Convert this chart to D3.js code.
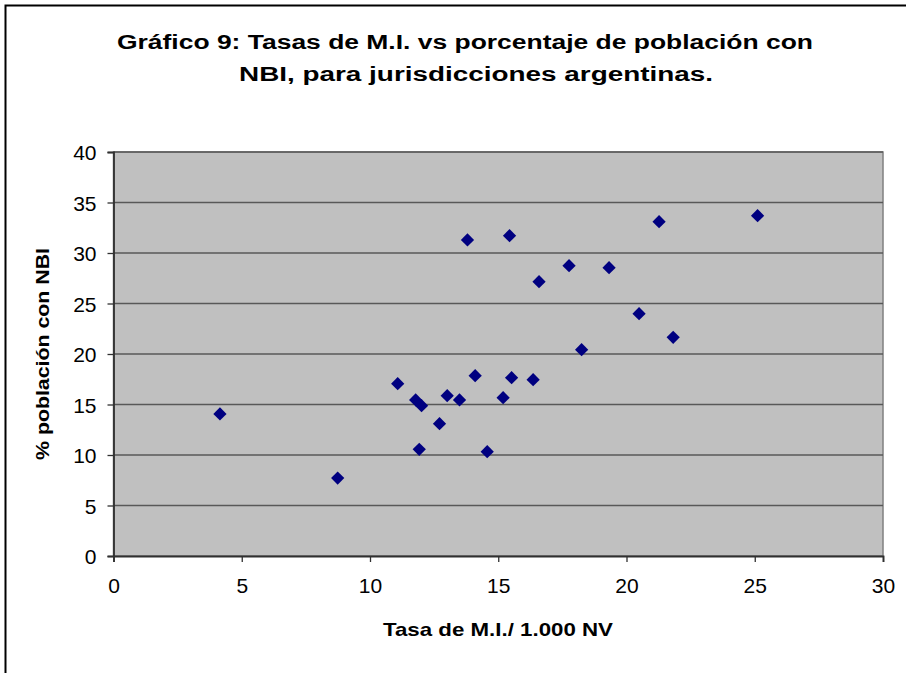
<!DOCTYPE html>
<html>
<head>
<meta charset="utf-8">
<title>Gráfico 9</title>
<script src="https://d3js.org/d3.v7.min.js"></script>
<style>
body { margin: 0; background: #fff; }
svg { display: block; font-family: "Liberation Sans", Arial, sans-serif; }
</style>
</head>
<body>
<div id="chart"></div>
<script>
// Tasa de mortalidad infantil (x) vs % población con NBI (y)
const tasaMI = [4.15, 8.74, 11.08, 11.78, 12.01, 13.01, 13.49, 14.10, 12.71, 11.92,
                14.57, 15.19, 15.52, 16.36, 13.80, 15.44, 16.59, 17.76, 19.32, 18.25,
                20.49, 21.82, 21.27, 25.11];
const nbi    = [14.06, 7.72, 17.06, 15.45, 14.88, 15.87, 15.45, 17.85, 13.10, 10.56,
                10.33, 15.67, 17.65, 17.46, 31.29, 31.71, 27.16, 28.74, 28.54, 20.43,
                23.99, 21.65, 33.10, 33.69];
const xTicks = [0, 5, 10, 15, 20, 25, 30];
const yTicks = [0, 5, 10, 15, 20, 25, 30, 35, 40];
const titleLines = ["Gráfico 9: Tasas de M.I. vs porcentaje de población con",
                    "NBI, para jurisdicciones argentinas."];
const xTitle = "Tasa de M.I./ 1.000 NV";
const yTitle = "% población con NBI";

const W = 906, H = 673;
const plot = {left: 113.5, right: 883, top: 152, bottom: 556};

const svg = d3.select("#chart").append("svg")
    .attr("width", W).attr("height", H);

// outer frame (runs past the right and bottom edges)
svg.append("rect")
    .attr("x", 5.5).attr("y", 5.5)
    .attr("width", W + 10).attr("height", H + 10)
    .attr("fill", "#fff").attr("stroke", "#000").attr("stroke-width", 2);

const x = d3.scaleLinear().domain([0, 30]).range([plot.left, plot.right]);
const y = d3.scaleLinear().domain([0, 40]).range([plot.bottom, plot.top]);

// plot area
svg.append("rect")
    .attr("x", plot.left).attr("y", plot.top)
    .attr("width", plot.right - plot.left).attr("height", plot.bottom - plot.top)
    .attr("fill", "#c0c0c0")
    .attr("stroke", "#808080").attr("stroke-width", 1.5);

// gridlines
svg.append("g")
    .selectAll("line")
    .data(yTicks.filter(d => d > 0))
    .join("line")
    .attr("x1", plot.left).attr("x2", plot.right)
    .attr("y1", d => y(d)).attr("y2", d => y(d))
    .attr("stroke", "#585858").attr("stroke-width", 1.5);

// axes
const xAxis = svg.append("g")
    .attr("transform", `translate(0,${plot.bottom})`)
    .call(d3.axisBottom(x).tickValues(xTicks).tickSize(6).tickPadding(16));
const yAxis = svg.append("g")
    .attr("transform", `translate(${plot.left},0)`)
    .call(d3.axisLeft(y).tickValues(yTicks).tickSize(6).tickPadding(11));

[xAxis, yAxis].forEach(g => {
  g.attr("font-family", null).attr("font-size", null);
  g.select(".domain").attr("stroke", "#303030").attr("stroke-width", 1.8);
  g.selectAll(".tick line").attr("stroke", "#303030").attr("stroke-width", 1.3);
  g.selectAll(".tick text")
    .style("font-family", "'Liberation Sans', Arial, sans-serif")
    .style("font-size", "21px").attr("fill", "#000");
});
xAxis.selectAll(".tick text").attr("dy", "0.71em");
yAxis.selectAll(".tick text").attr("dy", "0.36em");

// markers
const diamond = d3.symbol().type(d3.symbolDiamond2).size(112);
svg.append("g")
    .selectAll("path")
    .data(tasaMI.map((v, i) => [v, nbi[i]]))
    .join("path")
    .attr("d", diamond)
    .attr("transform", d => `translate(${x(d[0])},${y(d[1])})`)
    .attr("fill", "#000080");

// title
svg.append("text")
    .attr("x", 117).attr("y", 49)
    .attr("textLength", 696).attr("lengthAdjust", "spacingAndGlyphs")
    .attr("font-size", 20).attr("font-weight", "bold")
    .text(titleLines[0]);
svg.append("text")
    .attr("x", 239).attr("y", 80.5)
    .attr("textLength", 474).attr("lengthAdjust", "spacingAndGlyphs")
    .attr("font-size", 20).attr("font-weight", "bold")
    .text(titleLines[1]);

// axis titles
svg.append("text")
    .attr("x", 383).attr("y", 636)
    .attr("textLength", 230).attr("lengthAdjust", "spacingAndGlyphs")
    .attr("font-size", 19).attr("font-weight", "bold")
    .text(xTitle);
svg.append("text")
    .attr("transform", "translate(49,460) rotate(-90)")
    .attr("textLength", 212).attr("lengthAdjust", "spacingAndGlyphs")
    .attr("font-size", 19).attr("font-weight", "bold")
    .text(yTitle);
</script>
</body>
</html>
